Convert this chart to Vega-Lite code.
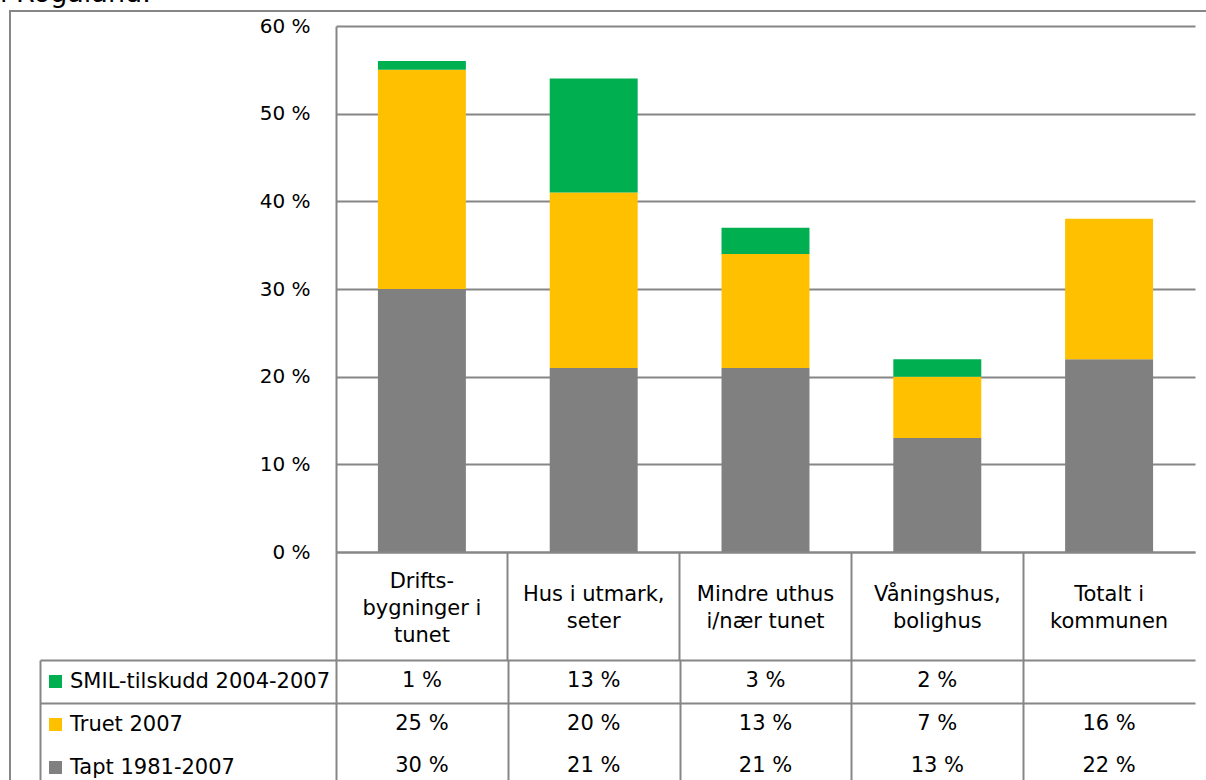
{
  "$schema": "https://vega.github.io/schema/vega-lite/v6.json",
  "background": "white",
  "autosize": {"type": "pad"},
  "padding": {"left": 0, "top": -20, "right": -5, "bottom": -11},
  "title": {"text": "i Rogaland.", "anchor": "start", "frame": "group", "dx": -10, "offset": 2, "font": "DejaVu Sans", "fontSize": 27, "fontWeight": "normal", "color": "#000000"},
  "datasets": {
    "tabell": [
      {"kategori": "Drifts-bygninger i tunet", "serie": "Tapt 1981-2007", "andel": 30},
      {"kategori": "Drifts-bygninger i tunet", "serie": "Truet 2007", "andel": 25},
      {"kategori": "Drifts-bygninger i tunet", "serie": "SMIL-tilskudd 2004-2007", "andel": 1},
      {"kategori": "Hus i utmark, seter", "serie": "Tapt 1981-2007", "andel": 21},
      {"kategori": "Hus i utmark, seter", "serie": "Truet 2007", "andel": 20},
      {"kategori": "Hus i utmark, seter", "serie": "SMIL-tilskudd 2004-2007", "andel": 13},
      {"kategori": "Mindre uthus i/nær tunet", "serie": "Tapt 1981-2007", "andel": 21},
      {"kategori": "Mindre uthus i/nær tunet", "serie": "Truet 2007", "andel": 13},
      {"kategori": "Mindre uthus i/nær tunet", "serie": "SMIL-tilskudd 2004-2007", "andel": 3},
      {"kategori": "Våningshus, bolighus", "serie": "Tapt 1981-2007", "andel": 13},
      {"kategori": "Våningshus, bolighus", "serie": "Truet 2007", "andel": 7},
      {"kategori": "Våningshus, bolighus", "serie": "SMIL-tilskudd 2004-2007", "andel": 2},
      {"kategori": "Totalt i kommunen", "serie": "Tapt 1981-2007", "andel": 22},
      {"kategori": "Totalt i kommunen", "serie": "Truet 2007", "andel": 16}
    ]
  },
  "columns": 2,
  "align": "none",
  "spacing": -1172,
  "bounds": "full",
  "concat": [
    {
      "data": {"values": []},
      "width": 1200,
      "height": 780,
      "view": {"stroke": "#868686", "strokeWidth": 2},
      "mark": {"type": "point"},
      "encoding": {}
    },
    {
      "vconcat": [
        {
          "data": {"values": []},
          "width": 1,
          "height": 1,
          "mark": {"type": "point"},
          "encoding": {}
        },
        {
          "vconcat": [
            {
              "width": 859,
              "height": 526,
              "data": {"name": "tabell"},
              "transform": [
                {"calculate": "indexof(['Tapt 1981-2007','Truet 2007','SMIL-tilskudd 2004-2007'], datum.serie)", "as": "rekke"}
              ],
              "mark": {"type": "bar", "width": {"band": 0.512}},
              "encoding": {
                "x": {
                  "field": "kategori", "type": "nominal", "sort": null,
                  "scale": {"paddingInner": 0, "paddingOuter": 0},
                  "axis": {
                    "title": null, "orient": "bottom", "zindex": 1,
                    "domain": true, "domainColor": "#868686", "domainWidth": 2,
                    "bandPosition": 0, "ticks": true, "tickSize": 108, "tickColor": "#868686", "tickWidth": 2,
                    "grid": false, "labelAngle": 0, "labelAlign": "center",
                    "labelBaseline": {"condition": {"test": "datum.label == 'Drifts-bygninger i tunet'", "value": "line-bottom"}, "value": "middle"},
                    "labelPadding": -66, "labelFont": "DejaVu Sans", "labelFontSize": 21, "labelColor": "#000000",
                    "labelLineHeight": 27, "labelLimit": 0, "labelOverlap": false,
                    "labelExpr": "datum.label == 'Drifts-bygninger i tunet' ? ['Drifts-', 'bygninger i', 'tunet'] : datum.label == 'Hus i utmark, seter' ? ['Hus i utmark,', 'seter'] : datum.label == 'Mindre uthus i/nær tunet' ? ['Mindre uthus', 'i/nær tunet'] : datum.label == 'Våningshus, bolighus' ? ['Våningshus,', 'bolighus'] : ['Totalt i', 'kommunen']"
                  }
                },
                "y": {
                  "field": "andel", "type": "quantitative", "stack": "zero",
                  "scale": {"domain": [0, 60], "nice": false},
                  "axis": {
                    "title": null, "values": [0, 10, 20, 30, 40, 50, 60],
                    "labelExpr": "datum.value + ' %'",
                    "grid": true, "gridColor": "#868686", "gridWidth": 2,
                    "ticks": false, "domain": true, "domainColor": "#868686", "domainWidth": 2,
                    "labelPadding": 26, "labelFont": "DejaVu Sans", "labelFontSize": 20, "labelColor": "#000000"
                  }
                },
                "color": {
                  "field": "serie", "type": "nominal",
                  "scale": {"domain": ["SMIL-tilskudd 2004-2007", "Truet 2007", "Tapt 1981-2007"], "range": ["#00B050", "#FFC000", "#808080"]},
                  "legend": {
                    "orient": "none", "legendX": -291, "legendY": 645, "title": null, "direction": "vertical",
                    "symbolType": "square", "symbolSize": 169, "symbolStrokeWidth": 0, "symbolOpacity": 1,
                    "labelFont": "DejaVu Sans", "labelFontSize": 21, "labelColor": "#000000", "labelLimit": 0,
                    "labelOffset": 4, "rowPadding": 21, "padding": 0
                  }
                },
                "order": {"field": "rekke", "type": "quantitative", "sort": "ascending"}
              }
            },
            {
              "width": 859,
              "height": 127.5,
              "data": {"name": "tabell"},
              "transform": [
                {"calculate": "datum.andel + ' %'", "as": "tekst"}
              ],
              "mark": {"type": "text", "font": "DejaVu Sans", "fontSize": 21, "color": "#000000", "align": "center", "baseline": "middle"},
              "encoding": {
                "x": {
                  "field": "kategori", "type": "nominal", "sort": null,
                  "scale": {"paddingInner": 0, "paddingOuter": 0},
                  "axis": {"title": null, "orient": "top", "labels": false, "ticks": false, "domain": false, "grid": true, "tickBand": "extent",
                    "values": ["Drifts-bygninger i tunet", "Hus i utmark, seter", "Mindre uthus i/nær tunet", "Våningshus, bolighus"],
                    "gridColor": "#868686", "gridWidth": 2}
                },
                "y": {
                  "field": "serie", "type": "nominal",
                  "scale": {"domain": ["SMIL-tilskudd 2004-2007", "Truet 2007", "Tapt 1981-2007"], "paddingInner": 0, "paddingOuter": 0},
                  "axis": {
                    "title": null, "values": ["SMIL-tilskudd 2004-2007"], "tickBand": "extent",
                    "grid": true, "gridColor": "#868686", "gridWidth": 2,
                    "ticks": true, "tickSize": -296, "tickColor": "#868686", "tickWidth": 2,
                    "domain": true, "domainColor": "#868686", "domainWidth": 2,
                    "offset": 296, "labels": false
                  }
                },
                "text": {"field": "tekst"}
              }
            }
          ],
          "bounds": "flush",
          "spacing": 108,
          "resolve": {"scale": {"x": "independent", "y": "independent"}, "legend": {"color": "independent"}}
        }
      ],
      "bounds": "flush",
      "spacing": 14
    }
  ],
  "config": {
    "view": {"stroke": null},
    "font": "DejaVu Sans"
  }
}
